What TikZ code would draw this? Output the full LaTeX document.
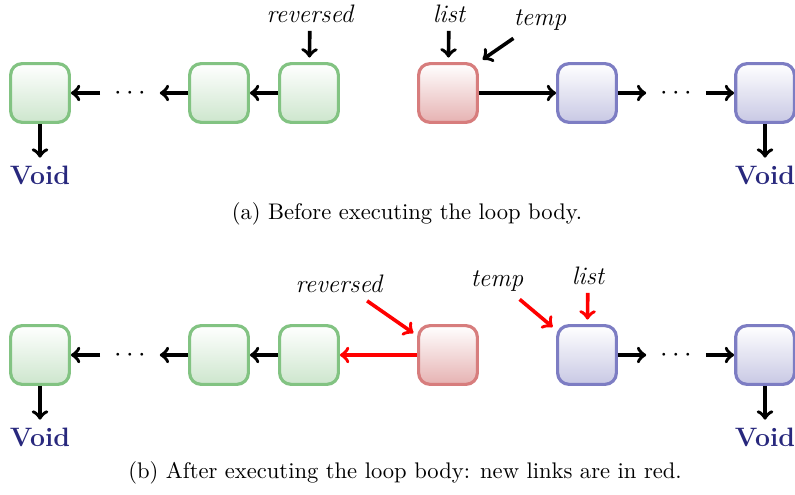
\documentclass[tikz,border=0pt]{standalone}
\usepackage{tikz}

\definecolor{greenline}{RGB}{130,195,130}
\definecolor{greenfill}{RGB}{205,230,205}
\definecolor{redline}{RGB}{215,125,125}
\definecolor{redfill}{RGB}{230,178,178}
\definecolor{blueline}{RGB}{125,125,195}
\definecolor{bluefill}{RGB}{200,200,228}
\definecolor{voidblue}{RGB}{40,40,125}

\tikzset{
	cell/.style={rectangle, rounded corners=5pt, minimum size=26pt, line width=1.4pt, top color=white},
	greencell/.style={cell, draw=greenline, bottom color=greenfill},
	redcell/.style={cell, draw=redline, bottom color=redfill},
	bluecell/.style={cell, draw=blueline, bottom color=bluefill},
	dotsnode/.style={minimum width=26pt, minimum height=26pt, font=\large},
	link/.style={->, line width=1.6pt},
	newlink/.style={link, red},
	varlbl/.style={font=\fontsize{11.2}{13.6}\selectfont\itshape},
	voidlbl/.style={font=\fontsize{11.8}{14}\selectfont\bfseries, text=voidblue},
	captn/.style={font=\fontsize{10}{12}\selectfont}
}

\begin{document}
\begin{tikzpicture}[x=0.443pt, y=-0.443pt]
		\useasboundingbox (0, 0) rectangle (795, 495);
		
		% (a) before the loop body
		\node[greencell] (g1) at (40, 93) {};
		\node[dotsnode] (gd) at (130, 93) {$\cdots$};
		\node[greencell] (g2) at (219, 93) {};
		\node[greencell] (g3) at (309, 93) {};
		\node[redcell] (r) at (448, 93) {};
		\node[bluecell] (b1) at (587, 93) {};
		\node[dotsnode] (bd) at (676, 93) {$\cdots$};
		\node[bluecell] (b2) at (765, 93) {};
		\node[voidlbl] (vl) at (40, 175) {Void};
		\node[voidlbl] (vr) at (765, 175) {Void};
		\node[varlbl] (rev) at (310, 14) {reversed};
		\node[varlbl] (lst) at (449, 14) {list};
		\node[varlbl] (tmp) at (540, 20) {temp};
		\node[captn] (capa) at (407, 214) {(a) Before executing the loop body.};
		
		\draw[link] (gd) -- (g1);
		\draw[link] (g2) -- (gd);
		\draw[link] (g3) -- (g2);
		\draw[link] (r) -- (b1);
		\draw[link] (b1) -- (bd);
		\draw[link] (bd) -- (b2);
		\draw[link] (g1) -- (vl);
		\draw[link] (b2) -- (vr);
		\draw[link, shorten >=2pt] (rev) -- (g3);
		\draw[link, shorten >=2pt] (lst) -- (r);
		\draw[link, shorten >=2pt] (tmp) -- (r.north east);
		
		% (b) after the loop body
		\node[greencell] (g1b) at (40, 355) {};
		\node[dotsnode] (gdb) at (130, 355) {$\cdots$};
		\node[greencell] (g2b) at (219, 355) {};
		\node[greencell] (g3b) at (309, 355) {};
		\node[redcell] (rb) at (448, 355) {};
		\node[bluecell] (b1b) at (587, 355) {};
		\node[dotsnode] (bdb) at (676, 355) {$\cdots$};
		\node[bluecell] (b2b) at (765, 355) {};
		\node[voidlbl] (vlb) at (40, 437) {Void};
		\node[voidlbl] (vrb) at (765, 437) {Void};
		\node[varlbl] (revb) at (339, 284) {reversed};
		\node[varlbl] (tmpb) at (497, 281) {temp};
		\node[varlbl] (lstb) at (588, 276) {list};
		\node[captn] (capb) at (405, 473) {(b) After executing the loop body: new links are in red.};
		
		\draw[link] (gdb) -- (g1b);
		\draw[link] (g2b) -- (gdb);
		\draw[link] (g3b) -- (g2b);
		\draw[newlink] (rb) -- (g3b);
		\draw[link] (b1b) -- (bdb);
		\draw[link] (bdb) -- (b2b);
		\draw[link] (g1b) -- (vlb);
		\draw[link] (b2b) -- (vrb);
		\draw[newlink, shorten >=2pt] (revb.-31) -- (rb.148);
		\draw[newlink, shorten >=2pt] (tmpb.-39) -- (b1b.141);
		\draw[newlink, shorten >=2pt] (lstb) -- (b1b);
		
	\end{tikzpicture}
\end{document}
